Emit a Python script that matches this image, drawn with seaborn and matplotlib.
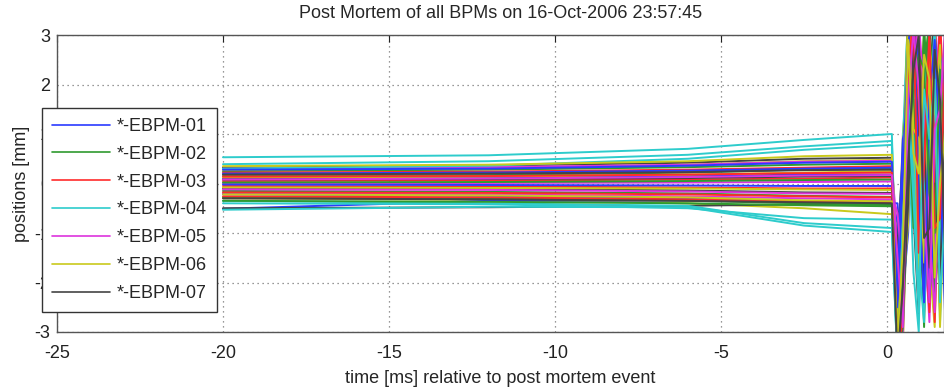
import numpy as np
import pandas as pd
import matplotlib
matplotlib.use("Agg")
import matplotlib.pyplot as plt
import seaborn as sns

# time axis (ms relative to post mortem event)
t_pre = [-20, -12, -6, -2.5, 0.15]
t_post = [0.32, 0.48, 0.64, 0.8, 0.96, 1.12, 1.28, 1.44, 1.6, 1.76]

# BPM positions [mm] before the event, one row per BPM
pre_pos = [
    [0.10, 0.12, 0.15, 0.18, 0.18],
    [0.25, 0.28, 0.33, 0.38, 0.40],
    [-0.05, -0.06, -0.08, -0.10, -0.10],
    [0.53, 0.57, 0.70, 0.88, 1.00],
    [0.18, 0.20, 0.24, 0.28, 0.30],
    [-0.30, -0.33, -0.40, -0.50, -0.62],
    [0.32, 0.36, 0.42, 0.50, 0.52],
    [-0.51, -0.35, -0.34, -0.35, -0.36],
    [-0.15, -0.17, -0.20, -0.25, -0.27],
    [0.05, 0.06, 0.08, 0.10, 0.12],
    [0.39, 0.45, 0.58, 0.75, 0.86],
    [-0.20, -0.22, -0.26, -0.30, -0.32],
    [0.28, 0.31, 0.38, 0.45, 0.48],
    [-0.50, -0.48, -0.45, -0.42, -0.42],
    [-0.22, -0.25, -0.30, -0.36, -0.40],
    [0.15, 0.17, 0.22, 0.28, 0.30],
    [0.22, 0.24, 0.28, 0.32, 0.35],
    [-0.53, -0.47, -0.48, -0.85, -0.98],
    [0.00, 0.01, 0.02, 0.03, 0.04],
    [0.12, 0.14, 0.18, 0.22, 0.25],
    [-0.10, -0.11, -0.14, -0.18, -0.19],
    [0.20, 0.22, 0.26, 0.30, 0.32],
    [-0.28, -0.30, -0.35, -0.40, -0.44],
    [-0.18, -0.19, -0.22, -0.26, -0.28],
    [-0.35, -0.40, -0.45, -0.80, -0.90],
    [0.30, 0.33, 0.38, 0.44, 0.46],
    [-0.08, -0.09, -0.10, -0.12, -0.13],
    [0.08, 0.09, 0.11, 0.14, 0.15],
    [-0.02, -0.03, -0.04, -0.05, -0.05],
    [0.02, 0.03, 0.05, 0.07, 0.08],
    [-0.26, -0.28, -0.32, -0.36, -0.38],
    [0.30, 0.36, 0.50, 0.68, 0.78],
    [-0.12, -0.13, -0.16, -0.20, -0.21],
    [0.35, 0.38, 0.45, 0.55, 0.58],
    [0.18, 0.20, 0.23, 0.27, 0.28],
    [0.28, 0.30, 0.36, 0.42, 0.44],
    [-0.35, -0.37, -0.40, -0.44, -0.46],
    [0.14, 0.15, 0.18, 0.21, 0.22],
    [-0.40, -0.42, -0.50, -0.70, -0.73],
    [0.08, 0.10, 0.13, 0.16, 0.17],
    [-0.22, -0.24, -0.28, -0.34, -0.36],
    [-0.30, -0.32, -0.35, -0.38, -0.40],
]

# BPM positions [mm] after the event (beam loss oscillation)
post_pos = [
    [-3.4, -1.2, 2.1, 3.5, 0.4, -1.8, 1.5, 2.6, -0.8, 1.2],
    [-2.8, 0.3, 3.6, 1.9, -1.5, 2.4, 3.2, -0.6, 1.8, -1.4],
    [-3.6, -2.0, 1.4, 3.6, 2.2, -2.6, 0.8, 3.5, 0.2, -2.2],
    [-3.5, -0.5, 2.8, 0.9, -2.4, 1.2, -1.0, 2.0, -2.8, 0.6],
    [-1.0, -2.6, 0.5, 2.9, 3.4, -0.9, -2.8, 1.0, 2.7, -0.5],
    [-2.2, 1.0, 2.4, -0.5, 1.6, 3.0, -1.6, -2.9, 1.4, 2.4],
    [-3.6, -1.8, 1.0, 2.2, -0.8, 0.5, 2.8, 1.2, -1.9, 0.9],
    [-0.8, -3.0, -0.2, 1.6, 2.8, 0.2, -2.2, 2.4, 1.0, -2.6],
    [-3.2, -0.4, 3.1, 3.6, 0.0, -2.9, 1.9, -1.2, 2.9, 1.6],
    [-3.6, -2.4, 0.6, 2.5, 1.2, 2.1, -0.3, -2.4, 0.8, 3.1],
    [-2.6, 0.8, 3.5, 1.3, -1.9, -0.4, 2.5, 0.6, -1.1, 1.9],
    [-3.5, -1.5, 2.7, 3.6, 1.8, -1.4, -2.5, 1.7, 3.3, 0.1],
    [-1.6, -3.3, 0.2, 2.0, 3.1, 1.5, -1.2, -2.0, 2.2, 1.0],
    [-3.6, -0.9, 1.8, -0.6, -2.7, 0.9, 2.2, 3.4, -0.4, -1.8],
    [-0.4, -2.2, -1.0, 2.6, 1.0, -2.4, -0.8, 1.5, 2.4, -1.0],
    [-3.3, 0.0, 3.3, 2.8, -0.6, 1.7, 3.5, 0.3, -2.6, 1.4],
    [-3.6, -2.8, 1.9, 3.2, 0.8, -1.0, 1.1, -2.8, 0.5, 2.7],
    [-3.6, -1.0, 1.2, -1.8, -3.0, 2.6, 0.4, -1.6, 1.6, -0.2],
    [-2.4, -0.6, 2.9, 1.0, 2.5, -0.2, -1.9, 2.2, -0.9, 3.0],
    [-3.5, -2.2, -0.8, 3.0, 1.4, -2.2, 2.0, 0.8, 2.0, -2.4],
    [-1.3, 0.6, 2.2, 3.6, -1.2, 0.6, 3.0, -0.4, -2.2, 0.4],
    [-3.4, -1.6, 2.5, 1.6, 2.9, 1.0, -1.4, 3.0, 1.2, -1.2],
    [-2.9, 0.4, 1.6, -0.9, 0.3, 3.2, 1.2, -2.2, -0.5, 2.2],
    [-3.6, -2.6, 0.9, 2.8, 3.5, -0.7, -2.6, 0.4, 3.4, 0.8],
    [-3.6, -1.4, 3.0, 2.3, -1.6, -2.8, 0.6, 2.8, 0.1, -2.0],
    [-1.8, -3.2, 1.1, 3.3, 0.6, 2.0, -0.4, -1.4, 1.9, 2.8],
    [-3.0, -0.2, 2.0, 0.4, -2.0, 1.4, 2.7, 1.9, -2.9, 0.3],
    [-3.5, -1.9, 3.4, 2.6, 1.2, -1.9, 0.0, 2.6, 0.7, -0.8],
    [-2.0, 0.9, 1.3, 3.6, 2.0, 0.4, -2.3, -0.8, 2.6, 1.8],
    [-3.6, -2.9, 0.0, 1.7, -0.4, 2.8, 1.6, -1.8, -1.5, 2.0],
    [-3.3, -0.7, 2.3, 3.5, 1.6, -1.2, 2.4, 0.9, 1.1, -1.6],
    [-3.6, -2.3, 1.6, 0.2, -2.2, 0.0, 1.3, 3.2, -1.4, 0.7],
    [-0.6, -1.8, 2.6, 2.4, 3.3, 1.8, -1.0, -2.6, 0.4, 2.5],
    [-3.1, -0.3, 3.6, 1.1, 0.9, -1.6, 2.9, 1.4, 2.8, -0.9],
    [-3.6, -2.5, -0.4, 2.7, 2.4, 0.8, -1.7, 0.0, -2.0, 1.5],
    [-2.5, 0.1, 2.8, 3.6, -0.2, -2.4, 1.7, 2.9, 0.6, -2.8],
    [-3.4, -1.1, 0.7, 1.8, 2.6, 2.3, -0.2, -1.0, 2.3, 0.5],
    [-3.6, -2.7, 2.2, 3.4, -1.4, 0.3, 3.1, -0.9, -0.7, 2.6],
    [-3.6, -0.8, 1.5, -0.3, -2.6, 1.9, 0.9, 2.1, -2.4, -0.4],
    [-1.5, -2.9, 1.7, 3.1, 1.9, -0.6, -2.4, 1.1, 1.5, 3.2],
    [-3.2, -1.3, 2.9, 0.6, 0.2, 2.6, 2.1, -1.9, 0.0, 1.1],
    [-3.6, -2.1, 0.4, 2.3, 3.0, -1.1, -0.9, 2.7, 1.7, -1.5],
]

legend_labels = ["*-EBPM-01", "*-EBPM-02", "*-EBPM-03", "*-EBPM-04",
                 "*-EBPM-05", "*-EBPM-06", "*-EBPM-07"]
# matlab style colour order b g r c m y k
color_order = ["#2b3bff", "#2f9a2f", "#ff2b2b", "#2ecccc",
               "#dd33dd", "#c9c91c", "#444444"]

# build long table
rows = []
for i in range(len(pre_pos)):
    times = t_pre + t_post
    vals = pre_pos[i] + post_pos[i]
    for t, v in zip(times, vals):
        rows.append({"bpm": i, "time": t, "pos": v})
df = pd.DataFrame(rows)
palette = [color_order[i % len(color_order)] for i in range(len(pre_pos))]

sns.set_style("white")
plt.rcParams["font.family"] = ["Liberation Sans", "DejaVu Sans"]
plt.rcParams["axes.unicode_minus"] = False

fig = plt.figure(figsize=(9.44, 3.9), dpi=100)
ax = fig.add_axes([57 / 944, 58 / 390, 1 - 57 / 944, 297 / 390])

sns.lineplot(data=df, x="time", y="pos", hue="bpm", palette=palette,
             estimator=None, sort=False, legend=False, linewidth=1.4, ax=ax)

ax.set_xlim(-25, 1.72)
ax.set_ylim(-3, 3)
ax.set_xticks([-25, -20, -15, -10, -5, 0])
ax.set_yticks([-3, -2, -1, 0, 1, 2, 3])
ax.grid(True, linestyle=(0, (1, 3)), color="#777777", linewidth=0.9)
ax.set_axisbelow(True)
ax.tick_params(direction="in", top=True, right=True, length=5,
               labelsize=13, colors="#222222")
ax.tick_params(axis="x", pad=9)
ax.tick_params(axis="y", pad=5)
for s in ax.spines.values():
    s.set_color("#555555")
    s.set_linewidth(1.0)

ax.set_title("Post Mortem of all BPMs on 16-Oct-2006 23:57:45",
             fontsize=13, pad=12)
ax.set_xlabel("time [ms] relative to post mortem event", fontsize=13, labelpad=6)
ax.set_ylabel("positions [mm]", fontsize=13, labelpad=3)

handles = ax.get_lines()[:7]
leg = ax.legend(handles, legend_labels, loc="upper left",
                bbox_to_anchor=(42 / 944, 1 - 108 / 390),
                bbox_transform=fig.transFigure, fontsize=13,
                handlelength=3.2, labelspacing=0.6, borderpad=0.55,
                handletextpad=0.4, fancybox=False, framealpha=1,
                edgecolor="#333333", borderaxespad=0)
leg.get_frame().set_linewidth(1.0)
for h in leg.get_lines():
    h.set_linewidth(1.2)

fig.savefig("out.png", dpi=100)
